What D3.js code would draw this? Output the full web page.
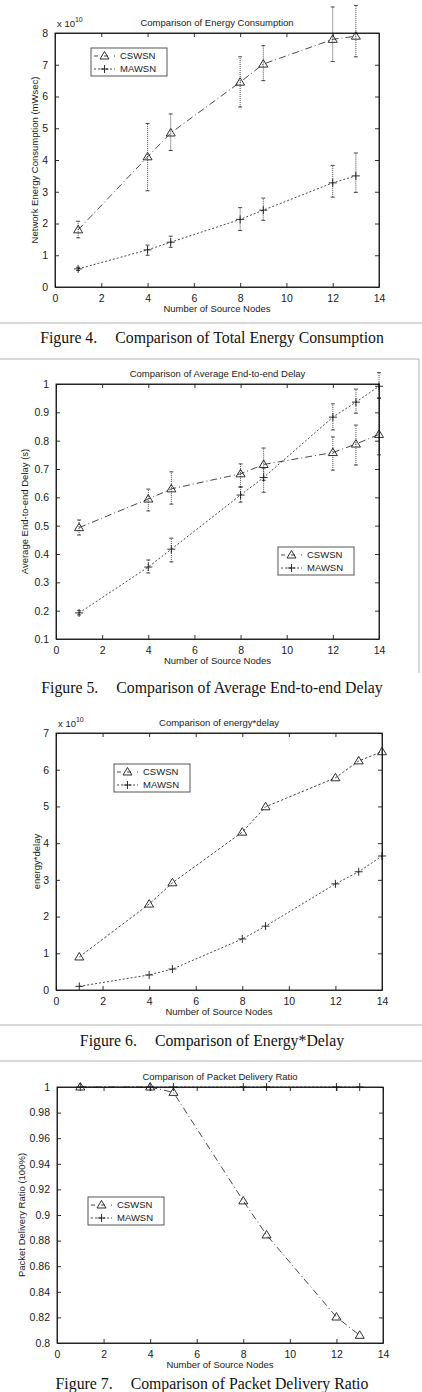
<!DOCTYPE html>
<html lang="en">
<head>
<meta charset="UTF-8" />
<title>CSWSN vs MAWSN</title>
<script src="https://d3js.org/d3.v7.min.js"></script>
<style>
  body { margin: 0; background: #fff; }
  svg { display: block; font-family: "Liberation Sans", Arial, sans-serif; }
  .caption { font-family: "Liberation Serif", "Times New Roman", serif; font-size: 15.8px; }
</style>
</head>
<body>
<svg id="chart" width="422" height="1392"></svg>
<script>
// ---- data ----
const nodesA = [1, 4, 5, 8, 9, 12, 13];
const nodesB = [1, 4, 5, 8, 9, 12, 13, 14];
const xTicks = [0, 2, 4, 6, 8, 10, 12, 14];

// Figure 4: energy (x 10^10 mWsec)
const energyCS   = [1.8, 4.1, 4.85, 6.45, 7.02, 7.8, 7.9];
const energyCSHi = [2.07, 5.15, 5.45, 7.25, 7.6, 8.82, 8.87];
const energyCSLo = [1.55, 3.03, 4.3, 5.67, 6.5, 7.1, 7.25];
const energyMA   = [0.57, 1.17, 1.41, 2.13, 2.42, 3.28, 3.5];
const energyMAHi = [0.62, 1.32, 1.6, 2.5, 2.8, 3.83, 4.22];
const energyMALo = [0.52, 1.0, 1.25, 1.78, 2.1, 2.83, 2.98];
const energyTicks = [0, 1, 2, 3, 4, 5, 6, 7, 8];

// Figure 5: average end-to-end delay (s)
const delayCS   = [0.493, 0.594, 0.63, 0.683, 0.716, 0.758, 0.788, 0.822];
const delayCSHi = [0.52, 0.629, 0.69, 0.718, 0.774, 0.813, 0.855, 0.95];
const delayCSLo = [0.467, 0.552, 0.576, 0.637, 0.66, 0.696, 0.714, 0.75];
const delayMA   = [0.192, 0.354, 0.417, 0.608, 0.67, 0.883, 0.936, 0.992];
const delayMAHi = [0.2, 0.379, 0.456, 0.636, 0.703, 0.93, 0.982, 1.04];
const delayMALo = [0.185, 0.333, 0.372, 0.583, 0.618, 0.838, 0.897, 0.95];
const delayTicks = [0.1, 0.2, 0.3, 0.4, 0.5, 0.6, 0.7, 0.8, 0.9, 1];

// Figure 6: energy*delay (x 10^10)
const edCS = [0.9, 2.34, 2.92, 4.3, 4.99, 5.78, 6.24, 6.49];
const edMA = [0.1, 0.41, 0.57, 1.39, 1.74, 2.89, 3.22, 3.65];
const edTicks = [0, 1, 2, 3, 4, 5, 6, 7];

// Figure 7: packet delivery ratio
const pdrCS = [1, 1, 0.9958, 0.911, 0.8844, 0.8203, 0.806];
const pdrMA = [1, 1, 1, 1, 1, 1, 1];
const pdrTicks = [0.8, 0.82, 0.84, 0.86, 0.88, 0.9, 0.92, 0.94, 0.96, 0.98, 1];

const seriesNames = ["CSWSN", "MAWSN"];

// ---- panel layout ----
const panels = [
  { x0: 55, x1: 379, y0: 33, y1: 287, yDomain: [0, 8], yTicks: energyTicks, exp: true,
    title: "Comparison of Energy Consumption", ylabel: "Network Energy Consumption (mWsec)", ylx: 35,
    xs: nodesA, cs: energyCS, ma: energyMA,
    csErr: [energyCSLo, energyCSHi], maErr: [energyMALo, energyMAHi],
    csDash: "7,3,1,3", legend: [91, 48],
    fig: "Figure 4.", caption: "Comparison of Total Energy Consumption", capY: 343,
    lines: [[0, 323, 422, 323]] },
  { x0: 56, x1: 379, y0: 384, y1: 639, yDomain: [0.1, 1], yTicks: delayTicks, exp: false,
    title: "Comparison of Average End-to-end Delay", ylabel: "Average End-to-end Delay (s)", ylx: 25,
    xs: nodesB, cs: delayCS, ma: delayMA,
    csErr: [delayCSLo, delayCSHi], maErr: [delayMALo, delayMAHi],
    csDash: "7,3,1,3", legend: [278, 547],
    fig: "Figure 5.", caption: "Comparison of Average End-to-end Delay", capY: 693,
    lines: [[0, 359, 419, 359], [419, 359, 419, 673]] },
  { x0: 56, x1: 382, y0: 733, y1: 990, yDomain: [0, 7], yTicks: edTicks, exp: true,
    title: "Comparison of energy*delay", ylabel: "energy*delay", ylx: 37,
    xs: nodesB, cs: edCS, ma: edMA, csErr: null, maErr: null,
    csDash: "2.5,2", legend: [114, 764],
    fig: "Figure 6.", caption: "Comparison of Energy*Delay", capY: 1046,
    lines: [[0, 1025, 422, 1025], [0, 1061, 422, 1061]] },
  { x0: 57, x1: 383, y0: 1087, y1: 1343, yDomain: [0.8, 1], yTicks: pdrTicks, exp: false,
    title: "Comparison of Packet Delivery Ratio", ylabel: "Packet Delivery Ratio (100%)", ylx: 22,
    xs: nodesA, cs: pdrCS, ma: pdrMA, csErr: null, maErr: null,
    csDash: "7,3,1,3", legend: [88, 1197],
    fig: "Figure 7.", caption: "Comparison of Packet Delivery Ratio", capY: 1389,
    lines: [] }
];

const svg = d3.select("#chart");
const ink = "#1a1a1a";
const tickFmt = d => String(+d.toFixed(2));

function triangle(g, cx, cy) {
  g.append("path")
    .attr("d", `M${cx},${cy - 4.5}L${cx + 4.5},${cy + 3}L${cx - 4.5},${cy + 3}Z`)
    .attr("fill", "none").attr("stroke", ink).attr("stroke-width", 0.9);
}
function plus(g, cx, cy) {
  g.append("path")
    .attr("d", `M${cx - 4},${cy}H${cx + 4}M${cx},${cy - 4}V${cy + 4}`)
    .attr("stroke", ink).attr("stroke-width", 0.9);
}

panels.forEach(p => {
  const x = d3.scaleLinear().domain([0, 14]).range([p.x0, p.x1]);
  const y = d3.scaleLinear().domain(p.yDomain).range([p.y1, p.y0]);
  const g = svg.append("g");

  // frame lines of the scanned figure
  p.lines.forEach(l => g.append("line")
    .attr("x1", l[0]).attr("y1", l[1]).attr("x2", l[2]).attr("y2", l[3])
    .attr("stroke", "#b0b0b0").attr("stroke-width", 1));

  // axes (MATLAB style: box with inward ticks on all sides)
  g.append("g").attr("transform", `translate(0,${p.y1})`)
    .call(d3.axisBottom(x).tickValues(xTicks).tickSizeInner(-4).tickSizeOuter(0).tickPadding(8).tickFormat(tickFmt));
  g.append("g").attr("transform", `translate(0,${p.y0})`)
    .call(d3.axisTop(x).tickValues(xTicks).tickSizeInner(-4).tickSizeOuter(0).tickFormat(""));
  g.append("g").attr("transform", `translate(${p.x0},0)`)
    .call(d3.axisLeft(y).tickValues(p.yTicks).tickSizeInner(-4).tickSizeOuter(0).tickPadding(7).tickFormat(tickFmt));
  g.append("g").attr("transform", `translate(${p.x1},0)`)
    .call(d3.axisRight(y).tickValues(p.yTicks).tickSizeInner(-4).tickSizeOuter(0).tickFormat(""));
  g.selectAll(".domain, .tick line").attr("stroke", ink).attr("stroke-width", 0.9);
  g.selectAll(".tick text").attr("fill", ink).style("font-size", "10.5px");
  g.append("rect").attr("x", p.x0).attr("y", p.y0)
    .attr("width", p.x1 - p.x0).attr("height", p.y1 - p.y0)
    .attr("fill", "none").attr("stroke", ink).attr("stroke-width", 0.9);

  // title and labels
  g.append("text").attr("x", (p.x0 + p.x1) / 2).attr("y", p.y0 - 7)
    .attr("text-anchor", "middle").style("font-size", "9.5px").attr("fill", ink).text(p.title);
  g.append("text").attr("x", (p.x0 + p.x1) / 2).attr("y", p.y1 + 25)
    .attr("text-anchor", "middle").style("font-size", "9.5px").attr("fill", ink).text("Number of Source Nodes");
  g.append("text")
    .attr("transform", `translate(${p.ylx},${(p.y0 + p.y1) / 2}) rotate(-90)`)
    .attr("text-anchor", "middle").attr("dy", "0.35em")
    .style("font-size", "9.5px").attr("fill", ink).text(p.ylabel);
  if (p.exp) {
    const t = g.append("text").attr("x", p.x0 + 2).attr("y", p.y0 - 6)
      .style("font-size", "9.5px").attr("fill", ink);
    t.append("tspan").text("x 10");
    t.append("tspan").attr("dy", -5).style("font-size", "7px").text("10");
  }

  // error bars
  const errBars = err => {
    if (!err) return;
    p.xs.forEach((xv, i) => {
      const lo = y(err[0][i]), hi = y(err[1][i]), cx = x(xv);
      g.append("line").attr("x1", cx).attr("x2", cx).attr("y1", lo).attr("y2", hi)
        .attr("stroke", ink).attr("stroke-width", 0.8).attr("stroke-dasharray", "1,1");
      [lo, hi].forEach(yy => g.append("line")
        .attr("x1", cx - 2).attr("x2", cx + 2).attr("y1", yy).attr("y2", yy)
        .attr("stroke", ink).attr("stroke-width", 0.8));
    });
  };
  errBars(p.csErr);
  errBars(p.maErr);

  // lines
  const line = d3.line().x(d => x(d[0])).y(d => y(d[1]));
  g.append("path").datum(p.xs.map((v, i) => [v, p.cs[i]]))
    .attr("d", line).attr("fill", "none").attr("stroke", ink)
    .attr("stroke-width", 0.8).attr("stroke-dasharray", p.csDash);
  g.append("path").datum(p.xs.map((v, i) => [v, p.ma[i]]))
    .attr("d", line).attr("fill", "none").attr("stroke", ink)
    .attr("stroke-width", 0.8).attr("stroke-dasharray", "2,2");

  // markers
  p.xs.forEach((v, i) => triangle(g, x(v), y(p.cs[i])));
  p.xs.forEach((v, i) => plus(g, x(v), y(p.ma[i])));

  // legend
  const [lx, ly] = p.legend;
  const lg = g.append("g").attr("transform", `translate(${lx},${ly})`);
  lg.append("rect").attr("width", 76).attr("height", 28)
    .attr("fill", "#fff").attr("stroke", "#444").attr("stroke-width", 0.9);
  seriesNames.forEach((name, k) => {
    const yy = 8 + k * 13;
    lg.append("line").attr("x1", 3).attr("x2", 24).attr("y1", yy).attr("y2", yy)
      .attr("stroke", ink).attr("stroke-width", 0.8)
      .attr("stroke-dasharray", k === 0 ? "4,6" : "2,2");
    if (k === 0) triangle(lg, 13.5, yy); else plus(lg, 13.5, yy);
    lg.append("text").attr("x", 29).attr("y", yy).attr("dy", "0.35em")
      .style("font-size", "9.5px").attr("fill", ink).text(name);
  });

  // figure caption
  const cap = svg.append("text").attr("class", "caption")
    .attr("x", 212).attr("y", p.capY).attr("text-anchor", "middle").attr("fill", "#111");
  cap.append("tspan").text(p.fig);
  cap.append("tspan").attr("dx", 18).text(p.caption);
});
</script>
</body>
</html>
